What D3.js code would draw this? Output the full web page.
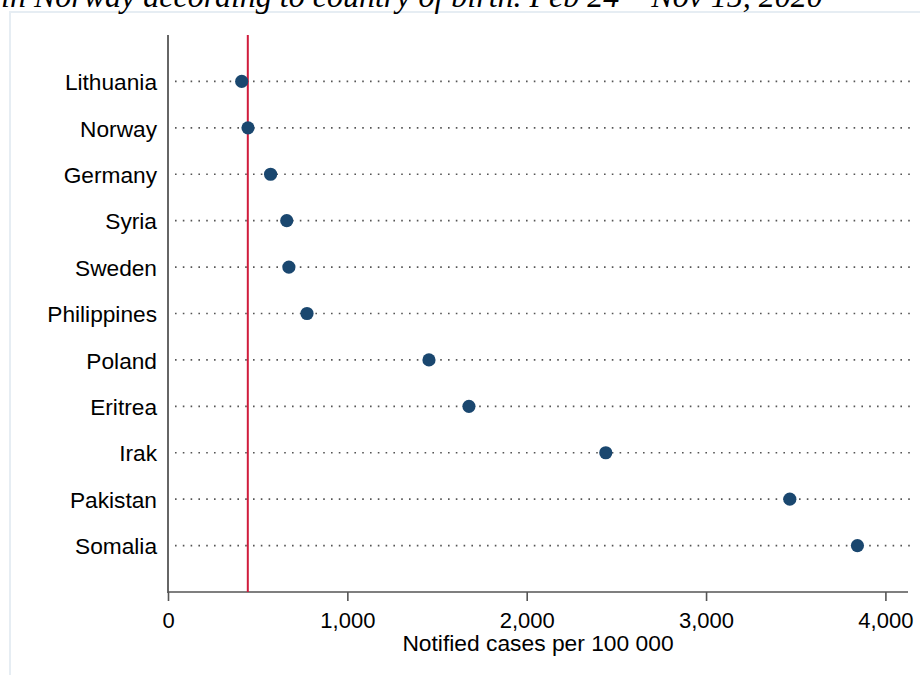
<!DOCTYPE html>
<html><head><meta charset="utf-8">
<script src="https://cdn.jsdelivr.net/npm/d3@7/dist/d3.min.js"></script>
<style>body{margin:0;background:#fff}svg{display:block}</style>
</head><body>
<script>
const countries = ["Lithuania","Norway","Germany","Syria","Sweden","Philippines","Poland","Eritrea","Irak","Pakistan","Somalia"];
const casesPer100k = [411,446,572,662,674,775,1455,1678,2441,3467,3844];
const referenceValue = 445;
const xTicks = [0,1000,2000,3000,4000];
const titleText = "in Norway according to country of birth. Feb 24 \u2013 Nov 15, 2020";
const xTitle = "Notified cases per 100 000";

const W = 920, H = 675;
const svg = d3.select("body").append("svg").attr("width", W).attr("height", H);

// outer light frame
svg.append("rect").attr("x", 10).attr("y", 12).attr("width", 930).attr("height", 700)
  .attr("fill", "#fff").attr("stroke", "#e6edf3").attr("stroke-width", 2);

// title (clipped at top as in the source image)
svg.append("text").attr("x", 1).attr("y", 7)
  .attr("font-family", "Liberation Serif, serif").attr("font-style", "italic")
  .attr("font-size", 32).attr("fill", "#000").text(titleText);

const x = d3.scaleLinear().domain([0, 4126]).range([168, 908]);
const y = d3.scalePoint().domain(countries).range([35, 592]).padding(1);

const g = svg.append("g");
const sans = "Liberation Sans, Arial, sans-serif";

// dotted guide lines
g.selectAll("line.guide").data(countries).join("line")
  .attr("class", "guide")
  .attr("x1", 175).attr("x2", 910)
  .attr("y1", d => y(d)).attr("y2", d => y(d))
  .attr("stroke", "#555").attr("stroke-width", 1.6)
  .attr("stroke-dasharray", "1.6,6.2");

// y axis line
g.append("line").attr("x1", 168).attr("x2", 168).attr("y1", 35).attr("y2", 593)
  .attr("stroke", "#666").attr("stroke-width", 2);

// x axis
const xAxis = d3.axisBottom(x).tickValues(xTicks).tickSize(9).tickPadding(4)
  .tickFormat(d3.format(","));
const ax = g.append("g").attr("transform", "translate(0,592)").call(xAxis);
ax.select(".domain").attr("stroke", "#555").attr("stroke-width", 1.6)
  .attr("d", "M168,0H908");
ax.selectAll(".tick line").attr("stroke", "#555").attr("stroke-width", 1.6);
ax.selectAll(".tick text").attr("font-family", sans)
  .attr("font-size", 22).attr("fill", "#000").attr("dy", null).attr("y", 36);

// reference line
g.append("line").attr("x1", x(referenceValue)).attr("x2", x(referenceValue))
  .attr("y1", 35).attr("y2", 592)
  .attr("stroke", "#d01c3c").attr("stroke-width", 2);

// y labels
g.selectAll("text.ylab").data(countries).join("text")
  .attr("class", "ylab")
  .attr("x", 157).attr("y", d => y(d) + 8.7)
  .attr("text-anchor", "end")
  .attr("font-family", sans).attr("font-size", 22.7)
  .attr("fill", "#000").text(d => d);

// markers
g.selectAll("circle.pt").data(countries).join("circle")
  .attr("class", "pt")
  .attr("cx", (d, i) => x(casesPer100k[i])).attr("cy", d => y(d))
  .attr("r", 6.6).attr("fill", "#1a476f");

// x title
svg.append("text").attr("x", 538).attr("y", 651).attr("text-anchor", "middle")
  .attr("font-family", sans).attr("font-size", 22.8)
  .attr("fill", "#000").text(xTitle);
</script>
</body></html>
